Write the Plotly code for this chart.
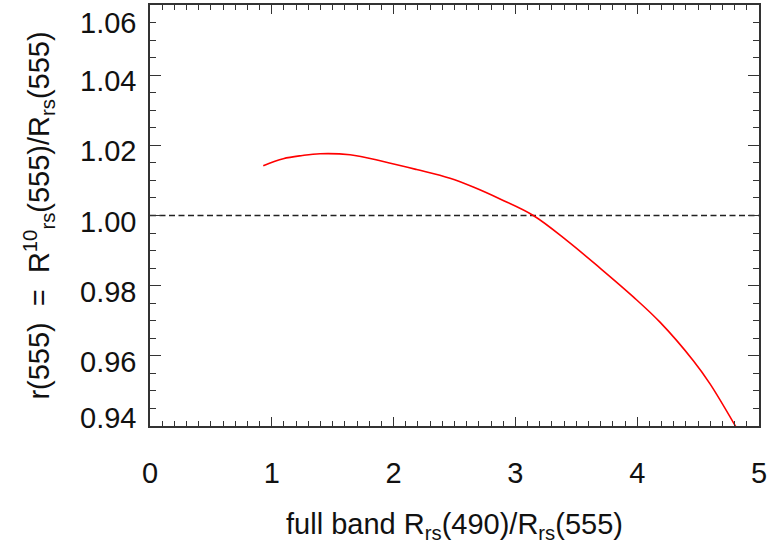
import plotly.graph_objects as go

# Data
ratio_x = [0.93, 1.094, 1.25, 1.396, 1.642, 1.915, 2.189, 2.463, 2.654, 2.874, 3.147,
           3.421, 3.695, 3.968, 4.187, 4.461, 4.598, 4.811]
r555_y = [1.0142, 1.0162, 1.0171, 1.0176, 1.0173, 1.0154, 1.0131, 1.0106, 1.0081, 1.0047, 1.0000,
          0.9929, 0.9850, 0.9768, 0.9696, 0.9586, 0.9520, 0.9397]
ref_x = [0, 5]
ref_y = [1.0, 1.0]

x_ticks = [0, 1, 2, 3, 4, 5]
y_ticks = [0.94, 0.96, 0.98, 1.00, 1.02, 1.04, 1.06]
y_tick_text = ["0.94", "0.96", "0.98", "1.00", "1.02", "1.04", "1.06"]

FONT = "Liberation Sans, Arial, Helvetica, sans-serif"
FS = 29

fig = go.Figure()
fig.add_trace(go.Scatter(x=ref_x, y=ref_y, mode="lines",
                         line=dict(color="#222222", width=1.5, dash="6px,3.5px"),
                         hoverinfo="skip", showlegend=False))
fig.add_trace(go.Scatter(x=ratio_x, y=r555_y, mode="lines",
                         line=dict(color="#ff0000", width=1.6, shape="spline", smoothing=1.0),
                         showlegend=False))

axis_common = dict(
    showgrid=False, zeroline=False, showline=True, linecolor="#333333", linewidth=1.5,
    mirror="ticks", ticks="inside", tickcolor="#333333", tickwidth=1.2,
    tickfont=dict(family=FONT, size=FS, color="#111111"),
)

fig.update_xaxes(
    range=[0, 5], tickvals=x_ticks, ticktext=[str(v) for v in x_ticks], ticklen=9,
    minor=dict(dtick=0.1, ticks="inside", ticklen=5, tickcolor="#333333", tickwidth=1),
    ticklabelstandoff=20,
    title=dict(text="full band R<sub>rs</sub>(490)/R<sub>rs</sub>(555)",
               font=dict(family=FONT, size=FS, color="#111111"), standoff=29),
    **axis_common,
)
fig.update_yaxes(
    range=[0.94, 1.06], tickvals=y_ticks, ticklen=11, showticklabels=False,
    minor=dict(dtick=0.005, ticks="inside", ticklen=6, tickcolor="#333333", tickwidth=1),
    title=dict(text="r(555)  =  R<sup>10</sup><sub>rs</sub>(555)/R<sub>rs</sub>(555)",
               font=dict(family=FONT, size=FS, color="#111111"), standoff=90),
    **axis_common,
)

# y tick labels placed on the y scale (edge labels nudged inward as in the reference)
for v, t in zip(y_ticks, y_tick_text):
    if t == "1.06":
        ys = -18
    elif t == "0.94":
        ys = 8
    else:
        ys = -6
    fig.add_annotation(x=0, xref="paper", xanchor="right", xshift=-12,
                       y=v, yref="y", yanchor="middle", yshift=ys,
                       text=t, showarrow=False,
                       font=dict(family=FONT, size=FS, color="#111111"))

fig.update_layout(
    width=770, height=544,
    margin=dict(l=150, r=11, t=5, b=118, autoexpand=False),
    paper_bgcolor="white", plot_bgcolor="white",
    showlegend=False,
)

fig.write_html("out.html")
